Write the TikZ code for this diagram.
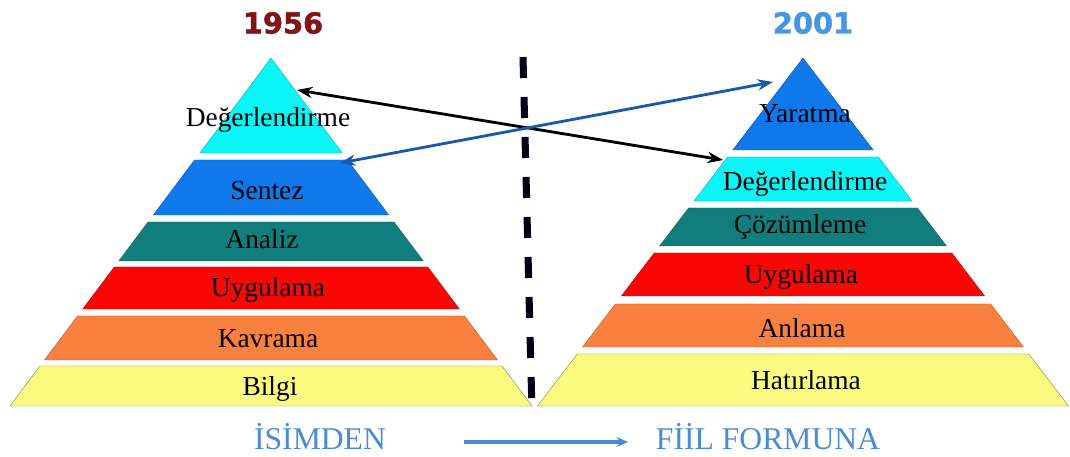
\documentclass[tikz,border=0pt]{standalone}
\usepackage{fontspec}
\setmainfont{Liberation Serif}
\newfontfamily\yearfont{DejaVu Sans}[BoldFeatures={FakeBold=1.6}]
\usetikzlibrary{arrows.meta}

\definecolor{bandcyan}{RGB}{10,245,245}
\definecolor{bandblue}{RGB}{15,120,235}
\definecolor{bandteal}{RGB}{18,125,125}
\definecolor{bandred}{RGB}{252,5,5}
\definecolor{bandorange}{RGB}{250,128,64}
\definecolor{bandyellow}{RGB}{250,250,128}
\definecolor{oldred}{RGB}{130,20,22}
\definecolor{newblue}{RGB}{70,150,225}
\definecolor{linkblue}{RGB}{25,88,170}
\definecolor{skyblue}{RGB}{72,140,215}

\tikzset{
  cyanband/.style={fill=bandcyan, draw=bandcyan!75!black, line width=0.3pt},
  blueband/.style={fill=bandblue, draw=bandblue!75!black, line width=0.3pt},
  tealband/.style={fill=bandteal, draw=bandteal!75!black, line width=0.3pt},
  redband/.style={fill=bandred, draw=bandred!75!black, line width=0.3pt},
  orangeband/.style={fill=bandorange, draw=bandorange!75!black, line width=0.3pt},
  yellowband/.style={fill=bandyellow, draw=bandyellow!55!black, line width=0.3pt},
  stage/.style={font=\fontsize{19.5}{20}\selectfont, inner sep=0pt},
  yeartitle/.style={font=\yearfont\bfseries\fontsize{20.5}{22}\selectfont, inner sep=0pt},
  trendtext/.style={font=\fontsize{22.5}{24}\selectfont, text=skyblue, inner sep=0pt},
  divider/.style={line width=5pt, color=black!90!blue, dash pattern=on 0.525cm off 0.475cm},
  swaplink/.style={line width=2pt, {Stealth[length=11pt,width=8pt]}-{Stealth[length=11pt,width=8pt]}}
}

\begin{document}
\begin{tikzpicture}[x=0.025cm,y=-0.025cm]
    \useasboundingbox (0,0) rectangle (1070,457);
    %% 1956 pyramid
    \draw[cyanband] (271,58) -- (342.3,153) -- (199.8,153) -- cycle;
    \draw[blueband] (194.5,160) -- (347.5,160) -- (388.8,215) -- (153.3,215) -- cycle;
    \draw[tealband] (148,222) -- (394,222) -- (423.3,261) -- (118.8,261) -- cycle;
    \draw[redband] (114.3,267) -- (427.8,267) -- (459.3,309) -- (82.8,309) -- cycle;
    \draw[orangeband] (77.5,316) -- (464.5,316) -- (497.5,360) -- (44.5,360) -- cycle;
    \draw[yellowband] (40,366) -- (502,366) -- (532,406) -- (10,406) -- cycle;
    % level names
    \node[stage] (degL) at (268,120) {Değerlendirme};
    \node[stage] (senL) at (267,191) {Sentez};
    \node[stage] (anaL) at (262,239) {Analiz};
    \node[stage] (uygL) at (268,290) {Uygulama};
    \node[stage] (kavL) at (268,339) {Kavrama};
    \node[stage] (bilL) at (270,389) {Bilgi};
    \node[yeartitle, text=oldred] (yearL) at (283,23) {1956};

    %% 2001 pyramid
    \draw[blueband] (803,58) -- (873.2,150) -- (732.8,150) -- cycle;
    \draw[cyanband] (727.5,157) -- (878.5,157) -- (912.1,201) -- (693.9,201) -- cycle;
    \draw[tealband] (688.6,208) -- (917.5,208) -- (946.4,246) -- (659.6,246) -- cycle;
    \draw[redband] (654.2,253) -- (951.8,253) -- (984.6,296) -- (621.4,296) -- cycle;
    \draw[orangeband] (615.3,304) -- (990.7,304) -- (1023.5,347) -- (582.5,347) -- cycle;
    \draw[yellowband] (577.2,354) -- (1028.8,354) -- (1068.5,406) -- (537.5,406) -- cycle;
    % level names
    \node[stage] (yarR) at (805,114) {Yaratma};
    \node[stage] (degR) at (805,184) {Değerlendirme};
    \node[stage] (cozR) at (800,227) {Çözümleme};
    \node[stage] (uygR) at (801,277) {Uygulama};
    \node[stage] (anlR) at (802,328) {Anlama};
    \node[stage] (hatR) at (806,380) {Hatırlama};
    \node[yeartitle, text=newblue] (yearR) at (813,23) {2001};

    %% dashed divider
    \coordinate (cutTop) at (523,57);
    \coordinate (cutBot) at (532,412);
    \draw[divider] (cutTop) -- (cutBot);

    %% swapped levels
    \coordinate (evalOld) at (297,90);
    \coordinate (evalNew) at (723,160);
    \coordinate (synOld) at (340,163);
    \coordinate (creNew) at (773,82);
    \draw[swaplink, black] (evalOld) -- (evalNew);
    \draw[swaplink, linkblue] (synOld) -- (creNew);

    %% noun to verb
    \node[trendtext] (noun) at (320,437) {İSİMDEN};
    \node[trendtext] (verb) at (768,437) {FİİL FORMUNA};
    \coordinate (nounEnd) at (464,442);
    \coordinate (verbEnd) at (628,442);
    \draw[line width=2.6pt, skyblue, -{Stealth[length=8pt,width=7pt]}] (nounEnd) -- (verbEnd);
\end{tikzpicture}
\end{document}
